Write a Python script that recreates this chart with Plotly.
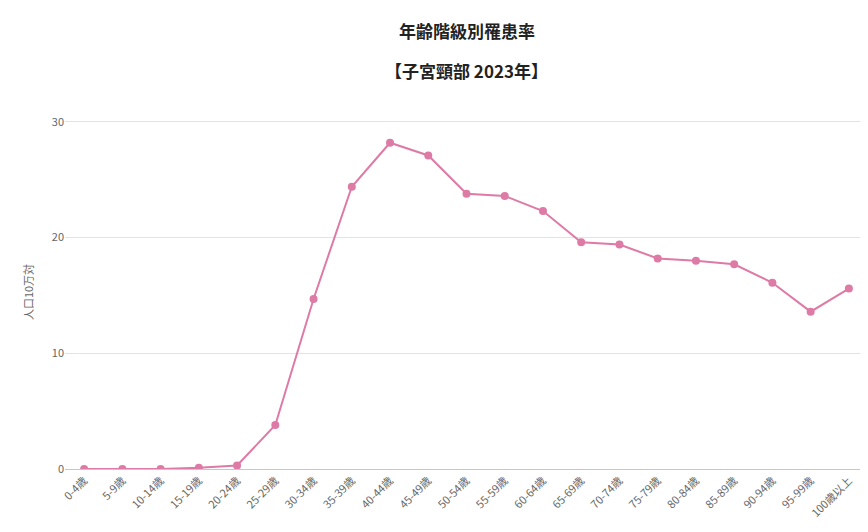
import plotly.graph_objs as go

AGE_GROUPS = ["0-4歳", "5-9歳", "10-14歳", "15-19歳", "20-24歳", "25-29歳", "30-34歳",
              "35-39歳", "40-44歳", "45-49歳", "50-54歳", "55-59歳", "60-64歳", "65-69歳",
              "70-74歳", "75-79歳", "80-84歳", "85-89歳", "90-94歳", "95-99歳", "100歳以上"]
RATES = [0.0, 0.0, 0.0, 0.1, 0.3, 3.8, 14.7, 24.4, 28.2, 27.1, 23.8, 23.6, 22.3, 19.6,
         19.4, 18.2, 18.0, 17.7, 16.1, 13.6, 15.6]

FONT = "Noto Sans CJK JP"

fig = go.Figure()
fig.add_trace(go.Scatter(
    x=AGE_GROUPS, y=RATES, mode="lines+markers",
    line=dict(color="#de7aa6", width=2),
    marker=dict(color="#de7aa6", size=8),
))

# two title lines, spaced like the reference
for txt, ypos in [("<b>年齢階級別罹患率</b>", 1.24), ("<b>【子宮頸部 2023年】</b>", 1.127)]:
    fig.add_annotation(text=txt, xref="paper", yref="paper", x=0.5, y=ypos,
                       xanchor="center", yanchor="middle", showarrow=False,
                       font=dict(family=FONT, size=17, color="#222"))

fig.update_layout(
    width=868, height=532,
    margin=dict(l=57, r=8, t=107, b=71),
    plot_bgcolor="white", paper_bgcolor="white",
    font=dict(family=FONT, size=11, color="#666"),
    showlegend=False,
    xaxis=dict(tickangle=-45, showgrid=False, showline=True, linecolor="#b8c8e8",
               range=[-0.5, 20.5], tickfont=dict(size=11, color="#666")),
    yaxis=dict(range=[0, 30.6], tickvals=[0, 10, 20, 30], gridcolor="#e3e3e3",
               zeroline=False, title=dict(text="人口10万対", font=dict(size=11, color="#666")),
               tickfont=dict(size=11, color="#666")),
)

fig.write_html("out.html")
